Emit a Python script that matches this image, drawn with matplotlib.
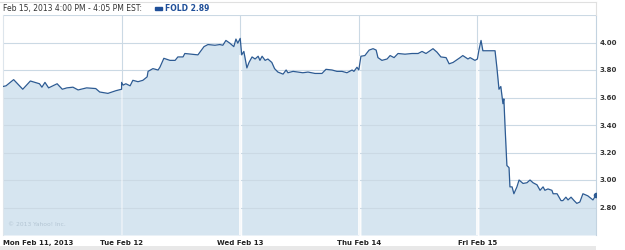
import numpy as np
import matplotlib.pyplot as plt
from matplotlib.patches import Rectangle
from matplotlib.lines import Line2D

# minutes after the open (9:30) and price, one pair of lists per trading day
mon_min = [0, 10, 35, 65, 90, 120, 128, 138, 150, 178, 195, 210, 230, 247, 275, 305, 318, 345, 372, 390]
mon_px = [3.68, 3.685, 3.73, 3.66, 3.72, 3.70, 3.675, 3.71, 3.67, 3.70, 3.66, 3.67, 3.675, 3.655, 3.67,
          3.665, 3.64, 3.63, 3.65, 3.66]
tue_min = [0, 5, 14, 28, 37, 54, 70, 84, 87, 103, 120, 126, 139, 159, 176, 185, 202, 208, 231, 251, 261,
           271, 284, 307, 323, 333, 343, 356, 369, 376, 382, 390]
tue_px = [3.71, 3.69, 3.70, 3.685, 3.725, 3.715, 3.725, 3.75, 3.79, 3.81, 3.80, 3.82, 3.885, 3.87, 3.87,
          3.895, 3.895, 3.92, 3.915, 3.91, 3.94, 3.97, 3.985, 3.98, 3.985, 3.98, 4.015, 3.995, 3.97,
          4.025, 3.995, 4.03]
wed_min = [5, 12, 22, 29, 39, 49, 59, 65, 72, 82, 91, 104, 113, 124, 141, 151, 157, 174, 190, 206, 223,
           246, 269, 282, 302, 318, 335, 351, 368, 374, 384, 390]
wed_px = [3.91, 3.935, 3.815, 3.855, 3.895, 3.88, 3.90, 3.87, 3.90, 3.87, 3.88, 3.855, 3.81, 3.785, 3.77,
          3.80, 3.78, 3.79, 3.785, 3.78, 3.785, 3.775, 3.775, 3.805, 3.80, 3.79, 3.79, 3.78, 3.80, 3.79,
          3.82, 3.80]
thu_min = [7, 20, 34, 47, 57, 63, 76, 93, 103, 116, 129, 152, 175, 195, 208, 221, 234, 244, 257, 270, 287,
           297, 310, 333, 342, 359, 366, 382, 390]
thu_px = [3.90, 3.905, 3.945, 3.955, 3.945, 3.89, 3.87, 3.88, 3.905, 3.89, 3.92, 3.915, 3.92, 3.92, 3.935,
          3.92, 3.94, 3.955, 3.93, 3.895, 3.89, 3.845, 3.855, 3.89, 3.905, 3.88, 3.89, 3.87, 3.88]
fri_min = [5, 12, 18, 35, 58, 64, 71, 77, 84, 87, 91, 97, 104, 107, 114, 120, 130, 137, 150, 163, 173, 183,
           196, 206, 216, 222, 232, 245, 249, 262, 275, 281, 291, 298, 308, 318, 327, 337, 347, 363, 380, 390]
fri_px = [3.945, 4.015, 3.94, 3.94, 3.94, 3.82, 3.66, 3.68, 3.555, 3.59, 3.385, 3.105, 3.09, 2.95, 2.95,
          2.90, 2.95, 3.00, 2.975, 2.98, 3.00, 2.98, 2.965, 2.925, 2.95, 2.925, 2.935, 2.925, 2.90, 2.90,
          2.85, 2.85, 2.875, 2.855, 2.875, 2.85, 2.83, 2.84, 2.90, 2.885, 2.855, 2.89]

day_labels = ["Mon Feb 11, 2013", "Tue Feb 12", "Wed Feb 13", "Thu Feb 14", "Fri Feb 15"]
y_ticks = [2.80, 3.00, 3.20, 3.40, 3.60, 3.80, 4.00]
header = "Feb 15, 2013 4:00 PM - 4:05 PM EST:"
symbol_label = "FOLD 2.89"

SESSION = 390.0
days = [(mon_min, mon_px), (tue_min, tue_px), (wed_min, wed_px), (thu_min, thu_px), (fri_min, fri_px)]

line_col = "#2d5b93"
fill_col = "#d6e5f0"
grid_col = "#cbd9e4"
text_col = "#333333"

W, H = 625, 250
fig = plt.figure(figsize=(W / 100, H / 100), dpi=100)
fig.patch.set_facecolor("white")
ax = fig.add_axes([3 / W, 15 / H, 593 / W, 220 / H])
ax.set_xlim(0, 5)
ax.set_ylim(2.6, 4.2)

t_all, p_all = [], []
for d, (mins, px) in enumerate(days):
    t = d + np.array(mins) / SESSION
    ax.fill_between(t, px, 2.6, color=fill_col, lw=0, zorder=1)
    t_all.extend(t)
    p_all.extend(px)
    if d > 0:
        # white day separator through the filled area
        ax.vlines(d, 2.6, px[0], colors="white", lw=1.2, alpha=1.0 if d > 1 else 0.5, zorder=2.5)

ax.plot(t_all, p_all, color=line_col, lw=0.9, zorder=3)
ax.plot(t_all[-1], p_all[-1], "o", color=line_col, ms=3, zorder=4)

for y in y_ticks:
    ax.axhline(y, color=grid_col, lw=0.8, zorder=2)
for d in range(1, 5):
    ax.axvline(d, color=grid_col, lw=0.8, zorder=0)

for s in ["top", "bottom"]:
    ax.spines[s].set_visible(False)
ax.spines["left"].set_color("#dde5ec")
ax.spines["right"].set_color("#c3d3e0")
ax.spines["left"].set_linewidth(0.8)
ax.spines["right"].set_linewidth(0.8)
ax.axhline(4.2, color=grid_col, lw=0.8, zorder=2)

ax.yaxis.tick_right()
ax.set_yticks(y_ticks)
ax.set_yticklabels([f"{y:.2f}" for y in y_ticks], fontsize=5, fontweight="bold", color=text_col)
ax.set_xticks(range(5))
ax.set_xticklabels(day_labels, fontsize=5, fontweight="bold", color="#222222")
ax.tick_params(axis="both", length=0)
ax.tick_params(axis="y", pad=2.5)
ax.tick_params(axis="x", pad=3.5)
ax.get_xticklabels()[0].set_horizontalalignment("left")

ax.text(0.008, 0.04, "\u00a9 2013 Yahoo! Inc.", transform=ax.transAxes, fontsize=4.3,
        color="#b3c5d3", zorder=5)

# header strip
fig.add_artist(Line2D([0, 596 / W], [1 - 1.5 / H] * 2, color="#e0e0e0", lw=0.8))
fig.add_artist(Line2D([596 / W] * 2, [1 - 1.5 / H, 1 - 15 / H], color="#e0e0e0", lw=0.8))
fig.text(3 / W, 1 - 8.5 / H, header, fontsize=5.5, color=text_col, va="center")
fig.add_artist(Rectangle((155 / W, 1 - 10 / H), 7 / W, 3 / H, color="#1f4f99"))
fig.text(165 / W, 1 - 8.5 / H, symbol_label, fontsize=5.5, color="#1f4f99", fontweight="bold",
         va="center")

# footer strip
fig.add_artist(Rectangle((0, 0), 596 / W, 4 / H, color="#e8e8e8", lw=0))

fig.savefig("out.png", dpi=100)
